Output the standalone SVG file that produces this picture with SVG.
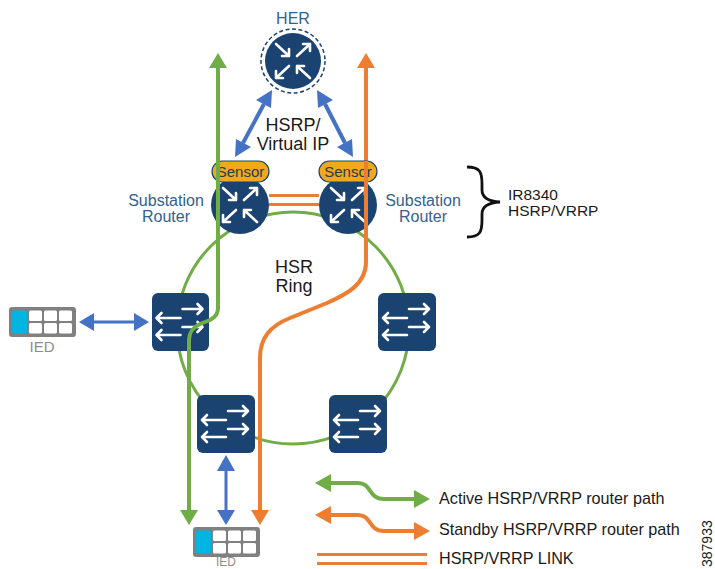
<svg xmlns="http://www.w3.org/2000/svg" width="715" height="569" viewBox="0 0 715 569">
<style>
text{font-family:"Liberation Sans",Arial,sans-serif}
.blk{fill:#1a1a1a;font-size:18px;text-anchor:middle}
.nav{fill:#33628f;font-size:16px;text-anchor:middle}
.leg{fill:#1a1a1a;font-size:16.2px}
.tag{fill:#1a1a1a;font-size:15.5px}
.ied{fill:#8c8c8c;font-size:15px;text-anchor:middle}
.node{fill:#1b4371}
.ia{fill:none;stroke:#fff;stroke-width:2.6;stroke-linecap:round;stroke-linejoin:round}
.g{fill:none;stroke:#70ad47;stroke-width:4;stroke-linejoin:round}
.o{fill:none;stroke:#ed7d31;stroke-width:4;stroke-linejoin:round}
.link{fill:none;stroke:#ed7d31;stroke-width:3}
.b{fill:none;stroke:#4472c4;stroke-width:4}
.b3{fill:none;stroke:#4472c4;stroke-width:3}
.gf{fill:#70ad47}.of{fill:#ed7d31}.bf{fill:#4472c4}
.pill{fill:#f0a81c;stroke:#1b4371;stroke-width:1.2}
.cell{fill:#fff}
</style>
<defs>
<g id="router-arrows" class="ia">
<path d="M-17-17L-4-5M-4-12V-5H-11"/>
<path d="M17-17L4-5M10-17H17V-10"/>
<path d="M-17 17L-4 5M-17 10V17H-10"/>
<path d="M17 17L4 5M4 12V5H11"/>
</g>
<g id="switch-arrows" class="ia">
<path d="M2-13H22M17-18L22-13L17-8"/>
<path d="M-24-4H0M-19-9L-24-4L-19 1"/>
<path d="M2 5H22M17 0L22 5L17 10"/>
<path d="M-24 13H0M-19 8L-24 13L-19 18"/>
</g>
<g id="ied-box">
<rect x="0" y="0" width="67" height="30" rx="3" fill="#808080"/>
<rect x="3" y="3.500" width="15" height="23" rx="1.500" fill="#00b5e2"/>
<rect class="cell" x="20" y="3.500" width="13" height="10.500" rx="1.500"/>
<rect class="cell" x="35" y="3.500" width="13" height="10.500" rx="1.500"/>
<rect class="cell" x="50" y="3.500" width="13" height="10.500" rx="1.500"/>
<rect class="cell" x="20" y="16" width="13" height="10.500" rx="1.500"/>
<rect class="cell" x="35" y="16" width="13" height="10.500" rx="1.500"/>
<rect class="cell" x="50" y="16" width="13" height="10.500" rx="1.500"/>
</g>
</defs>

<g id="ring"><ellipse cx="293" cy="328" rx="116" ry="116" fill="none" stroke="#70ad47" stroke-width="3"/></g>

<g id="node-her">
<circle cx="293" cy="61" r="32" fill="#fff" stroke="#1b4371" stroke-width="1.500" stroke-dasharray="4 2.500"/>
<circle class="node" cx="293" cy="61" r="28"/>
<use href="#router-arrows" transform="translate(293 61)"/>
<text class="nav" x="293" y="24">HER</text>
</g>
<g id="node-router-left">
<circle class="node" cx="240" cy="205" r="29"/>
<use href="#router-arrows" transform="translate(240 205)"/>
<text class="nav" x="166" y="206">Substation</text>
<text class="nav" x="166" y="222">Router</text>
</g>
<g id="node-router-right">
<circle class="node" cx="348" cy="205" r="29"/>
<use href="#router-arrows" transform="translate(348 205)"/>
<text class="nav" x="423" y="206">Substation</text>
<text class="nav" x="423" y="222">Router</text>
</g>
<g id="node-switch-left"><rect class="node" x="152" y="293" width="57" height="58" rx="6"/><use href="#switch-arrows" transform="translate(180.500 322)"/></g>
<g id="node-switch-right"><rect class="node" x="378" y="293" width="58" height="58" rx="6"/><use href="#switch-arrows" transform="translate(407 322)"/></g>
<g id="node-switch-bottom-left"><rect class="node" x="197" y="395" width="58" height="58" rx="6"/><use href="#switch-arrows" transform="translate(226 424)"/></g>
<g id="node-switch-bottom-right"><rect class="node" x="329" y="395" width="58" height="58" rx="6"/><use href="#switch-arrows" transform="translate(358 424)"/></g>
<g id="node-ied-left"><use href="#ied-box" transform="translate(9 307)"/><text class="ied" x="42" y="352">IED</text></g>
<g id="node-ied-bottom"><use href="#ied-box" transform="translate(193 527)"/><text class="ied" x="226" y="566" style="font-size:12px">IED</text></g>

<g id="connectors">
<path class="link" d="M269 195.500H319M269 204.500H319"/>
<path class="g" d="M218 66V308Q218 316 210 320L200 324Q189 329 189 340V512"/>
<path class="gf" d="M218 53L227 68H209ZM189 525L180 510H198Z"/>
<path class="o" d="M366 66V262C366 285 345 295 327 303L290 318C270 326 260 338 260 358V512"/>
<path class="of" d="M366 53L375 68H357ZM260 525L251 510H269Z"/>
<path class="b" d="M264 104L243 143"/>
<path class="bf" d="M272 90L271 108L256 100ZM235 157L236 139L251 147Z"/>
<path class="b" d="M325 104L345 143"/>
<path class="bf" d="M317 90L333 100L318 108ZM353 157L337 147L352 139Z"/>
<path class="b3" d="M92 322H135"/>
<path class="bf" d="M79 322L94 313V331ZM149 322L134 313V331Z"/>
<path class="b3" d="M226 468V512"/>
<path class="bf" d="M226 455L235 471H217ZM226 525L217 510H235Z"/>
</g>

<g id="bracket"><path d="M467 167C480 167 482 172 482 184V190Q482 201 500 202Q482 203 482 214V220C482 232 480 237 467 237" fill="none" stroke="#111" stroke-width="2.800"/></g>
<text class="tag" x="508" y="200">IR8340</text>
<text class="tag" x="508" y="216">HSRP/VRRP</text>
<text class="blk" x="293" y="131">HSRP/</text>
<text class="blk" x="293" y="150">Virtual IP</text>
<text class="blk" x="294" y="273">HSR</text>
<text class="blk" x="294" y="292">Ring</text>
<g id="node-sensor-left"><rect class="pill" x="212" y="161" width="57" height="21" rx="10.500"/><text x="240.500" y="177" font-size="15" fill="#2b3a4a" text-anchor="middle">Sensor</text></g>
<g id="node-sensor-right"><rect class="pill" x="319" y="161" width="58" height="21" rx="10.500"/><text x="348" y="177" font-size="15" fill="#2b3a4a" text-anchor="middle">Sensor</text></g>
<path class="g" d="M218 161V205"/>
<path class="o" d="M366 161V205"/>

<g id="legend">
<path class="g" d="M329 483H358C372 483 368 499 384 499H417"/>
<path class="gf" d="M315 483L331 474V492ZM430 499L414 490V508Z"/>
<path class="o" d="M329 515H358C372 515 368 531 384 531H417"/>
<path class="of" d="M315 515L331 506V524ZM430 531L414 522V540Z"/>
<path class="link" d="M317 554.500H427M317 563.500H427"/>
<text class="leg" x="439" y="504">Active HSRP/VRRP router path</text>
<text class="leg" x="439" y="535">Standby HSRP/VRRP router path</text>
<text class="leg" x="439" y="564">HSRP/VRRP LINK</text>
</g>
<text x="712" y="567" transform="rotate(-90 712 567)" font-size="14" fill="#1a1a1a">387933</text>
</svg>
